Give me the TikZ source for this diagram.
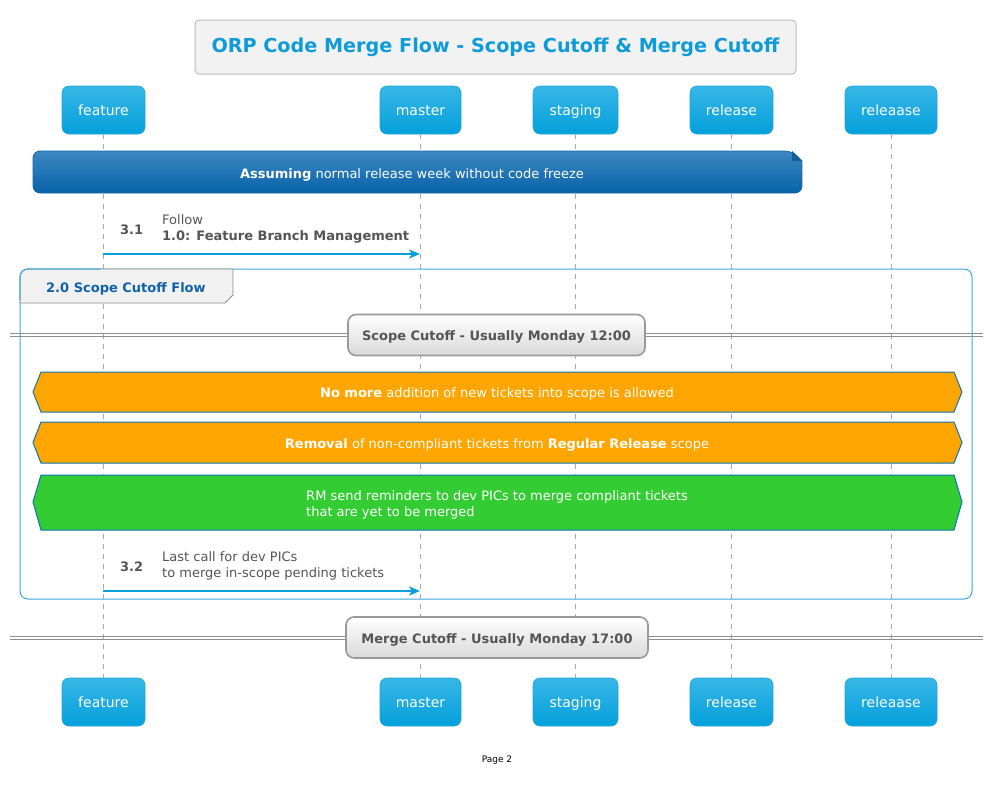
\documentclass[tikz,border=0pt]{standalone}
\usepackage{fontspec}
\setmainfont{DejaVu Sans}
\usetikzlibrary{arrows.meta}
\definecolor{partTop}{HTML}{38B6E6}
\definecolor{partBot}{HTML}{03A0DB}
\definecolor{partLine}{HTML}{1BA6DD}
\definecolor{lifeGray}{HTML}{A8A8A8}
\definecolor{msgBlue}{HTML}{0A9EDC}
\definecolor{titleBlue}{HTML}{0E9BD8}
\definecolor{titleFill}{HTML}{F2F2F2}
\definecolor{titleLine}{HTML}{BDBDBD}
\definecolor{noteTop}{HTML}{3C88C2}
\definecolor{noteBot}{HTML}{0862A8}
\definecolor{noteLine}{HTML}{1466A6}
\definecolor{noteFold}{HTML}{1A5E98}
\definecolor{txtGray}{HTML}{555555}
\definecolor{groupLine}{HTML}{3AAADE}
\definecolor{tabFill}{HTML}{F1F1F1}
\definecolor{tabLine}{HTML}{8C8C8C}
\definecolor{tabText}{HTML}{0F62A8}
\definecolor{divLine}{HTML}{8E8E8E}
\definecolor{divBox}{HTML}{999999}
\definecolor{divBot}{HTML}{D9D9D9}
\definecolor{hexOrange}{HTML}{FFA500}
\definecolor{hexGreen}{HTML}{33CC33}
\definecolor{hexLine}{HTML}{0B74B8}
\tikzset{
  partbox/.style={rectangle, rounded corners=7pt, minimum height=48pt,
    top color=partTop, bottom color=partBot, draw=partLine, line width=0.6pt,
    text=white, font=\fontsize{14}{16}\selectfont, inner xsep=0pt,
    text height=13pt, text depth=2pt},
  lifeline/.style={draw=lifeGray, line width=0.8pt, dash pattern=on 5pt off 5pt},
  msgarrow/.style={draw=msgBlue, line width=2pt, -{Stealth[length=11pt,width=9pt,inset=3pt]}},
  msgtxt/.style={text=txtGray, font=\fontsize{13}{16}\selectfont, inner sep=0pt, align=left},
  hexbox/.style={draw=hexLine, line width=1pt},
  hextxt/.style={text=white, font=\fontsize{13}{16}\selectfont, align=left, inner sep=0pt},
  divbox/.style={rectangle, rounded corners=8pt, top color=white, bottom color=divBot,
    draw=divBox, line width=1.6pt, text=txtGray, font=\bfseries\fontsize{13}{16}\selectfont,
    minimum height=41pt, inner xsep=14pt},
  divline/.style={draw=divLine, line width=1pt},
}
\begin{document}
\begin{tikzpicture}[x=1pt,y=-1pt]
\useasboundingbox (0,0) rectangle (994,803);
\fill[white] (0,0) rectangle (994,803);

% title
\node[rectangle, rounded corners=4pt, fill=titleFill, draw=titleLine, line width=1pt,
  minimum width=601pt, minimum height=54pt, text=titleBlue,
  font=\bfseries\fontsize{19.2}{22}\selectfont] (title) at (495.5,47) {ORP Code Merge Flow - Scope Cutoff \& Merge Cutoff};

% participants
\node[partbox, minimum width=83pt] (featT) at (103.5,110) {feature};
\node[partbox, minimum width=81pt] (mastT) at (420.5,110) {master};
\node[partbox, minimum width=85pt] (stagT) at (575.5,110) {staging};
\node[partbox, minimum width=83pt] (relT)  at (731.5,110) {release};
\node[partbox, minimum width=92pt] (relaT) at (891,110) {releaase};

\node[partbox, minimum width=83pt] (featB) at (103.5,702) {feature};
\node[partbox, minimum width=81pt] (mastB) at (420.5,702) {master};
\node[partbox, minimum width=85pt] (stagB) at (575.5,702) {staging};
\node[partbox, minimum width=83pt] (relB)  at (731.5,702) {release};
\node[partbox, minimum width=92pt] (relaB) at (891,702) {releaase};

% lifelines
\draw[lifeline] (featT.south) -- (featB.north);
\draw[lifeline] (mastT.south) -- (mastB.north);
\draw[lifeline] (stagT.south) -- (stagB.north);
\draw[lifeline] (relT.south) -- (relB.north);
\draw[lifeline] (relaT.south) -- (relaB.north);

% note
\shade[top color=noteTop, bottom color=noteBot, draw=noteLine, line width=0.8pt, rounded corners=7pt]
  (33,172) -- (33,151) -- (792,151) [sharp corners] -- (802,161) [rounded corners=7pt] -- (802,193) -- (33,193) -- cycle;
\fill[noteFold] (792,151) -- (792,161) -- (802,161) -- cycle;
\node[text=white, font=\fontsize{13}{16}\selectfont] (note) at (412,175) {\textbf{Assuming} normal release week without code freeze};

% message 3.1
\coordinate (m1s) at (103,254);
\coordinate (m1e) at (420,254);
\draw[msgarrow] (m1s) -- (m1e);
\node[msgtxt, anchor=west, font=\bfseries\fontsize{13}{16}\selectfont] (n31) at (120,230) {3.1};
\node[msgtxt, anchor=north west] (t31) at (162,214) {Follow\\\textbf{1.0: Feature Branch Management}};

% group
\draw[draw=groupLine, line width=1pt, rounded corners=8pt] (20,269) rectangle (972,599);
\filldraw[fill=tabFill, draw=tabLine, line width=0.8pt] (20,303) [rounded corners=8pt] -- (20,269) [sharp corners] -- (233,269) -- (233,295) -- (225,303) -- cycle;
\draw[draw=groupLine, line width=1pt, rounded corners=8pt] (20,300) -- (20,269) -- (100,269);
\node[anchor=west, text=tabText, font=\bfseries\fontsize{13}{16}\selectfont, inner sep=0pt] (tab) at (46,289) {2.0 Scope Cutoff Flow};

% divider 1
\coordinate (d1l) at (10,333.5);
\coordinate (d1r) at (983,333.5);
\coordinate (d1l2) at (10,336.5);
\coordinate (d1r2) at (983,336.5);
\draw[divline] (d1l) -- (d1r);
\draw[divline] (d1l2) -- (d1r2);
\node[divbox, minimum width=297pt, text height=13pt, text depth=2pt] (div1) at (496.5,335) {Scope Cutoff - Usually Monday 12:00};

% hexagons
\filldraw[hexbox, fill=hexOrange] (33,392) -- (41,372) -- (954,372) -- (962,392) -- (954,412) -- (41,412) -- cycle;
\node[hextxt] (h1) at (497,394) {\textbf{No more} addition of new tickets into scope is allowed};
\filldraw[hexbox, fill=hexOrange] (33,442.5) -- (41,422) -- (954,422) -- (962,442.5) -- (954,463) -- (41,463) -- cycle;
\node[hextxt] (h2) at (497,445) {\textbf{Removal} of non-compliant tickets from \textbf{Regular Release} scope};
\filldraw[hexbox, fill=hexGreen] (33,502) -- (41,475) -- (954,475) -- (962,502) -- (954,530) -- (41,530) -- cycle;
\node[hextxt] (h3) at (497,505) {RM send reminders to dev PICs to merge compliant tickets\\that are yet to be merged};

% message 3.2
\coordinate (m2s) at (103,591);
\coordinate (m2e) at (420,591);
\draw[msgarrow] (m2s) -- (m2e);
\node[msgtxt, anchor=west, font=\bfseries\fontsize{13}{16}\selectfont] (n32) at (120,567) {3.2};
\node[msgtxt, anchor=north west] (t32) at (162,551) {Last call for dev PICs\\to merge in-scope pending tickets};

% divider 2
\coordinate (d2l) at (10,636);
\coordinate (d2r) at (983,636);
\coordinate (d2l2) at (10,639);
\coordinate (d2r2) at (983,639);
\draw[divline] (d2l) -- (d2r);
\draw[divline] (d2l2) -- (d2r2);
\node[divbox, minimum width=302pt, text height=13pt, text depth=2pt] (div2) at (497,637.5) {Merge Cutoff - Usually Monday 17:00};

% footer
\node[font=\fontsize{9}{11}\selectfont] (page) at (497,760) {Page 2};
\end{tikzpicture}
\end{document}
